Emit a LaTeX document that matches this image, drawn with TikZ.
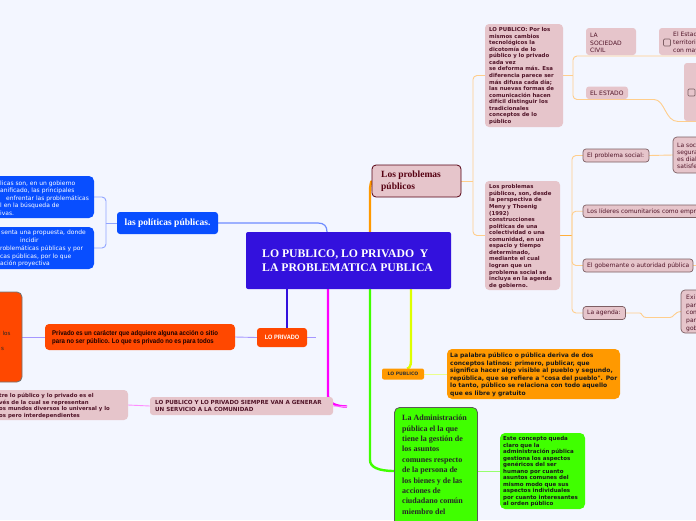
\documentclass[tikz,border=0pt]{standalone}
\usepackage{fontspec}
\newfontfamily\dvs{DejaVu Sans}
\newfontfamily\lser{Liberation Serif}
\newfontfamily\narrowf[FakeStretch=0.89]{Liberation Sans}
\pgfdeclarelayer{bglayer}
\pgfdeclarelayer{connlayer}
\pgfsetlayers{bglayer,connlayer,main}
\definecolor{bgc}{RGB}{243,246,255}
\definecolor{centralc}{RGB}{51,17,221}
\definecolor{bluec}{RGB}{8,78,255}
\definecolor{redc}{RGB}{255,72,0}
\definecolor{pinkc}{RGB}{230,197,203}
\definecolor{maroon}{RGB}{80,20,40}
\definecolor{darkmaroon}{RGB}{85,0,17}
\definecolor{orangec}{RGB}{255,153,0}
\definecolor{greenc}{RGB}{64,255,0}
\definecolor{yellowc}{RGB}{221,255,0}
\definecolor{magentac}{RGB}{255,0,255}
\definecolor{bluelinec}{RGB}{110,140,255}
\definecolor{lblue}{RGB}{145,165,255}
\definecolor{lviolet}{RGB}{165,150,255}
\definecolor{lmagenta}{RGB}{255,140,255}
\definecolor{lorange}{RGB}{255,206,140}
\definecolor{morange}{RGB}{255,175,60}
\definecolor{lyellow}{RGB}{235,255,140}
\definecolor{lgreen}{RGB}{150,255,110}
\definecolor{pinkborder}{RGB}{125,95,100}
\tikzset{
  boxnw/.style={anchor=north west, inner sep=0pt, outer sep=0pt},
  pinkbox/.style={boxnw, fill=pinkc, rounded corners=3pt},
  pinkframed/.style={pinkbox, draw=pinkborder, line width=0.7pt},
  checkbox/.style={boxnw, draw=pinkborder, line width=0.7pt, rounded corners=1pt, minimum width=7, minimum height=7},
  txt/.style={anchor=west, inner sep=0pt, align=left},
  mainconn/.style={line width=2.4pt},
  thinconn/.style={line width=0.9pt, rounded corners=4pt},
  smallbold/.style={font=\dvs\bfseries\fontsize{5.4}{6.55}\selectfont, text=maroon},
  smallreg/.style={font=\dvs\fontsize{6}{7.6}\selectfont, text=maroon},
  bluetxt/.style={anchor=base west, inner sep=0pt, font=\dvs\fontsize{6}{7.5}\selectfont, text=white},
}
\begin{document}
\begin{tikzpicture}[x=1pt,y=-1pt]
\begin{pgfonlayer}{bglayer}
\fill[bgc] (0,0) rectangle (696,520);
\end{pgfonlayer}
\useasboundingbox (0,0) rectangle (696,520);

% ---------- central ----------
\node[boxnw, fill=centralc, rounded corners=2pt, minimum width=205, minimum height=57] (c) at (246,232) {};
\node[txt, text=white, font=\lser\bfseries\fontsize{11.7}{14.4}\selectfont] (ct) at ([xshift=16]c.west) {LO PUBLICO, LO PRIVADO \ Y\\LA PROBLEMATICA PUBLICA};

% ---------- left: politicas ----------
\node[boxnw, fill=bluec, rounded corners=3pt, minimum width=101, minimum height=22] (pol) at (117,212) {};
\node[inner sep=0pt, text=white, font=\lser\bfseries\fontsize{9.5}{11}\selectfont] (polt) at (pol.center) {las políticas públicas.};

\node[boxnw, fill=bluec, rounded corners=5pt, minimum width=104, minimum height=42] (pa) at (-10,176) {};
\node[bluetxt] (pa1) at (0,185.3) {licas son, en un gobierno};
\node[bluetxt] (pa2) at (0,192.7) {anificado, las principales};
\node[bluetxt] (pa3) at (6,200.3) {enfrentar las problemáticas};
\node[bluetxt] (pa4) at (0,207.7) {l en la búsqueda de};
\node[bluetxt] (pa5) at (0,215.3) {ivas.};

\node[boxnw, fill=bluec, rounded corners=5pt, minimum width=104, minimum height=42] (pb) at (-10,227) {};
\node[bluetxt] (pb1) at (1,234.7) {senta una propuesta, donde};
\node[bluetxt] (pb2) at (20,242.7) {incidir};
\node[bluetxt] (pb3) at (0,250.7) {roblemáticas públicas y por};
\node[bluetxt] (pb4) at (0,258) {cas públicas, por lo que};
\node[bluetxt] (pb5) at (0,265.3) {ación proyectiva};

% ---------- left: privado ----------
\node[boxnw, fill=redc, draw=black!55, line width=0.8pt, rounded corners=5pt, minimum width=32, minimum height=90] (rb) at (-10,292) {};
\node[anchor=base west, inner sep=0pt, text=black!85, font=\dvs\fontsize{5.6}{7.5}\selectfont] (rbt1) at (-1,335.3) {l los};
\node[anchor=base west, inner sep=0pt, text=black!85, font=\dvs\fontsize{5.6}{7.5}\selectfont] (rbt2) at (1,350.3) {s};

\node[boxnw, fill=redc, rounded corners=4pt, minimum width=190, minimum height=26] (pv) at (45,324) {};
\node[txt, text=black!90!red, font=\narrowf\bfseries\fontsize{6.8}{8.3}\selectfont] (pvt) at (52,337.5) {Privado es un carácter que adquiere alguna acción o sitio\\para no ser público. Lo que es privado no es para todos};

\node[boxnw, fill=redc, rounded corners=3pt, minimum width=50, minimum height=19] (lpr) at (257,328) {};
\node[inner sep=0pt, text=white, font=\narrowf\bfseries\fontsize{6.3}{7}\selectfont] (lprt) at (lpr.center) {LO PRIVADO};
\coordinate (lprend) at (316,337.5);

% ---------- left: servicio ----------
\node[pinkbox, minimum width=183, minimum height=18] (sv) at (150,397) {};
\node[txt, smallbold, font=\dvs\bfseries\fontsize{5.6}{7.3}\selectfont] (svt) at (155,406) {LO PUBLICO Y LO PRIVADO SIEMPRE VAN A GENERAR\\UN SERVICIO A LA COMUNIDAD};

\node[pinkbox, rounded corners=4pt, minimum width=138, minimum height=30] (lp) at (-10,390) {};
\node[txt, smallbold, font=\dvs\bfseries\fontsize{5.4}{6.7}\selectfont] (lpt) at (-1,406) {tre lo público y lo privado es el\\vés de la cual se representan\\os mundos diversos lo universal y lo\\os pero interdependientes};
\coordinate (magend) at (347,406.5);

% ---------- right: problemas ----------
\node[pinkbox, draw=darkmaroon, line width=0.8pt, rounded corners=4pt, minimum width=89, minimum height=32] (lpn) at (372,165) {};
\node[txt, text=darkmaroon, font=\lser\bfseries\fontsize{9.5}{12.5}\selectfont] (lpnt) at (381,181) {Los problemas\\públicos};

\node[pinkbox, rounded corners=4pt, minimum width=78, minimum height=103] (lpub) at (485,24) {};
\node[txt, smallbold] (lpubt) at (489,76) {LO PUBLICO: Por los\\mismos cambios\\tecnológicos la\\dicotomía de lo\\público y lo privado\\cada vez\\se deforma más. Esa\\diferencia parece ser\\más difusa cada día;\\las nuevas formas de\\comunicación hacen\\difícil distinguir los\\tradicionales\\conceptos de lo\\público};

\node[pinkbox, rounded corners=4pt, minimum width=75, minimum height=109] (lpp) at (485,181) {};
\node[txt, smallbold] (lppt) at (489,236.5) {Los problemas\\públicos, son, desde\\la perspectiva de\\Meny y Thoenig\\(1992)\\construcciones\\políticas de una\\colectividad o una\\comunidad, en un\\espacio y tiempo\\determinado,\\mediante el cual\\logran que un\\problema social se\\incluya en la agenda\\de gobierno.};

\node[pinkbox, minimum width=50, minimum height=27] (soc) at (586,28) {};
\node[txt, smallreg, font=\dvs\fontsize{6}{7.8}\selectfont] (soct) at (590,43) {LA\\SOCIEDAD\\CIVIL};

\node[pinkbox, minimum width=42, minimum height=12.5] (est) at (586,86.5) {};
\node[txt, smallreg] (estt) at (590,93) {EL ESTADO};

\node[pinkbox, minimum width=50, minimum height=27] (ee) at (659,28) {};
\node[checkbox] (cb1) at (663.5,39) {};
\node[txt, smallreg, font=\dvs\fontsize{6}{7.8}\selectfont] (eet) at (673,43) {El Estad\\territorio,\\con mayo};

\node[pinkbox, minimum width=30, minimum height=58] (e2) at (684,63) {};
\node[checkbox] (cb2) at (688,89) {};

\node[pinkframed, minimum width=66, minimum height=13] (ps) at (583,149) {};
\node[txt, smallreg] (pst) at (587,155.5) {El problema social:};

\node[pinkframed, rounded corners=4pt, minimum width=40, minimum height=36] (ls) at (673,137) {};
\node[txt, smallreg, font=\dvs\fontsize{6}{7.2}\selectfont] (lst) at (677,156) {La soc\\segura\\es dial\\satisfe};

\node[pinkframed, minimum width=130, minimum height=12.5] (lid) at (583,205) {};
\node[txt, smallreg] (lidt) at (587,211.25) {Los líderes comunitarios como empr};

\node[pinkframed, minimum width=110, minimum height=13] (gob) at (583,259) {};
\node[txt, smallreg] (gobt) at (587,265.5) {El gobernante o autoridad pública};
\coordinate (gobend) at (700,265.5);

\node[pinkframed, minimum width=42.5, minimum height=13] (ag) at (583,306.5) {};
\node[txt, smallreg] (agt) at (587,313) {La agenda:};

\node[pinkframed, rounded corners=4pt, minimum width=40, minimum height=43] (ex) at (681,290) {};
\node[txt, smallreg] (ext) at (686,313.3) {Exi\\par\\con\\par\\gob};

% ---------- LO PUBLICO ----------
\node[boxnw, fill=orangec, rounded corners=2pt, minimum width=42, minimum height=11] (lpo) at (382,368.5) {};
\node[inner sep=0pt, text=black!80, font=\dvs\bfseries\fontsize{4.6}{5}\selectfont] (lpot) at (lpo.center) {LO PUBLICO};

\node[boxnw, fill=orangec, rounded corners=5pt, minimum width=173, minimum height=50] (pal) at (447,349) {};
\node[txt, text=black!90, font=\dvs\bfseries\fontsize{6}{7.5}\selectfont] (palt) at (450,374.5) {La palabra público o pública deriva de dos\\conceptos latinos: primero, publicar, que\\significa hacer algo visible al pueblo y segundo,\\república, que se refiere a "cosa del pueblo". Por\\lo tanto, público se relaciona con todo aquello\\que es libre y gratuito};

% ---------- Administracion ----------
\node[boxnw, fill=greenc, draw=black!65, line width=0.8pt, rounded corners=5pt, minimum width=83, minimum height=127] (ad) at (394.5,407.5) {};
\node[anchor=north west, inner sep=0pt, align=left, text=black!85, font=\lser\bfseries\fontsize{8}{10.4}\selectfont] (adt) at (402,415) {La Administración\\pública el la que\\tiene la gestión de\\los asuntos\\comunes respecto\\de la persona de\\los bienes y de las\\acciones de\\ciudadano común\\miembro del};

\node[boxnw, fill=greenc, rounded corners=5pt, minimum width=85, minimum height=76] (ec) at (500,433) {};
\node[txt, text=black!90, font=\dvs\bfseries\fontsize{5.5}{6.5}\selectfont] (ect) at (503,471.5) {Este concepto queda\\claro que la\\administración pública\\gestiona los aspectos\\genéricos del ser\\humano por cuanto\\asuntos comunes del\\mismo modo que sus\\aspectos individuales\\por cuanto interesantes\\al orden público};

% ---------- connectors ----------
\begin{pgfonlayer}{connlayer}
\coordinate (pj) at (106,223);
\draw[thinconn, lblue] (pol.west) -- (pj);
\draw[thinconn, lblue] (pj) |- (pa.east);
\draw[thinconn, lblue] (pj) |- (pb.east);
\draw[line width=1.2pt, bluelinec] (pol.east) -- (318,223) .. controls (324,223) and (327,226) .. ([xshift=81]c.north west);

\draw[mainconn, centralc] ([xshift=41]c.south west) -- ([xshift=30]lpr.north west);
\draw[thinconn, lviolet] (pv.east) -- (lpr.west);
\draw[thinconn, lviolet] (lpr.east) -- (lprend);
\draw[thinconn, lviolet] (rb.east) -- (pv.west);

\draw[mainconn, magentac] ([xshift=82]c.south west) -- (328,396) .. controls (328,403) and (336,406.5) .. (magend);
\draw[thinconn, lmagenta] (sv.east) -- (magend);
\draw[thinconn, lmagenta] (lp.east) -- (sv.west);

\draw[mainconn, orangec] ([xshift=124]c.north west) -- (370,192) .. controls (370,186) and (371,181) .. (lpn.west);
\coordinate (oj) at (473,181);
\draw[thinconn, lorange] (lpn.east) -- (oj);
\draw[thinconn, lorange] (oj) |- (lpub.west);
\draw[thinconn, lorange] (oj) |- (lpp.west);

\coordinate (oj2) at (573,75.5);
\draw[thinconn, lorange] (lpub.east) -- (oj2);
\draw[thinconn, lorange] (oj2) |- ([yshift=-1]soc.south west) -- ([yshift=-1]ee.south west) -- ([yshift=-1]ee.south east);
\draw[thinconn, lorange] (oj2) |- ([yshift=-0.5]est.south west) -- (650,99.5) .. controls (665,99.5) and (665,121.5) .. (682,121.5) -- ([yshift=-0.5]e2.south east);

\coordinate (oj3) at (572,235.5);
\draw[line width=1.4pt, morange] (lpp.east) -- (oj3);
\draw[thinconn, lorange] (oj3) |- (ps.west);
\draw[thinconn, lorange] (oj3) |- (lid.west);
\draw[thinconn, lorange] (oj3) |- (gob.west);
\draw[thinconn, lorange] (oj3) |- (ag.west);
\draw[thinconn, lorange] (ps.east) -- (ls.west);
\draw[thinconn, lorange] (gob.east) -- (gobend);
\draw[thinconn, lorange] (ag.east) -- (636,313) .. controls (642,313) and (642,317.5) .. (650,317.5) -- (666,317.5) .. controls (674,317.5) and (674,312) .. (ex.west);

\draw[mainconn, yellowc] ([xshift=165]c.south west) -- (411,361) .. controls (411,366) and (409,368.5) .. ([xshift=25]lpo.north west);
\draw[thinconn, lyellow] (lpo.east) -- (pal.west);

\draw[mainconn, greenc] ([xshift=124]c.south west) -- (370,460) .. controls (370,467) and (378,471) .. (ad.west);
\draw[thinconn, lgreen] (ad.east) -- (ec.west);
\end{pgfonlayer}
\end{tikzpicture}
\end{document}
